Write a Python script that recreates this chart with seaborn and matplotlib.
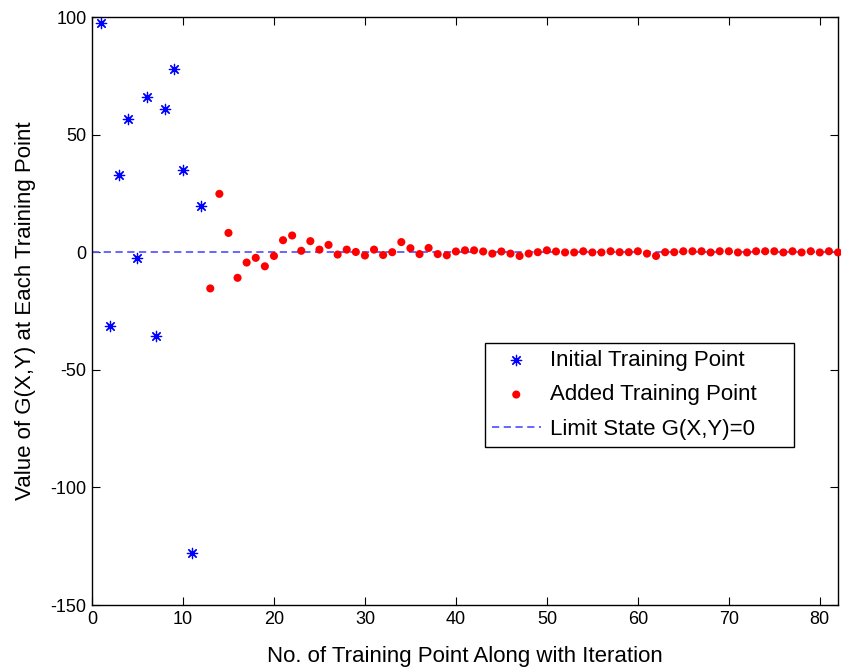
import matplotlib
matplotlib.use("Agg")
import matplotlib.pyplot as plt
import seaborn as sns
import numpy as np
import pandas as pd

# ---- data ----
initial_x = list(range(1, 13))
initial_y = [97.5, -31.5, 33, 56.5, -2.5, 66, -35.7, 61, 78, 35, -128, 19.5]

added_x = list(range(13, 83))
added_y = [-15.4, 24.8, 8.2, -10.9, -4.4, -2.4, -6.0, -1.6, 5.1, 7.1,
           0.6, 4.7, 1.1, 3.1, -1.0, 1.1, 0.1, -1.4, 1.1, -1.2,
           0.0, 4.3, 1.7, -0.8, 1.8, -0.8, -1.3, 0.3, 0.8, 0.8,
           0.3, -0.6, 0.3, -0.6, -1.6, -0.6, 0.0, 0.8, 0.3, -0.1,
           -0.1, 0.4, -0.1, -0.1, 0.4, 0.0, 0.0, 0.4, -0.6, -1.6,
           0.0, 0.0, 0.4, 0.4, 0.4, -0.1, 0.4, 0.4, -0.1, -0.1,
           0.4, 0.4, 0.4, -0.1, 0.4, -0.1, 0.4, -0.1, 0.4, -0.1]

limit_value = 0.0
xticks = [0, 10, 20, 30, 40, 50, 60, 70, 80]
yticks = [-150, -100, -50, 0, 50, 100]

labels = ["Initial Training Point", "Added Training Point", "Limit State G(X,Y)=0"]

sns.set_style("ticks")
plt.rcParams["font.family"] = ["Liberation Sans", "DejaVu Sans"]
plt.rcParams["axes.unicode_minus"] = False
plt.rcParams["text.color"] = "black"
plt.rcParams["axes.labelcolor"] = "black"

fig = plt.figure(figsize=(8.41, 6.69), dpi=100)
ax = fig.add_axes([92 / 841, 1 - 605 / 669, (838 - 92) / 841, (605 - 17) / 669])

df_init = pd.DataFrame({"x": initial_x, "y": initial_y})
df_add = pd.DataFrame({"x": added_x, "y": added_y})

ax.axhline(limit_value, color="#5b5bff", linestyle=(0, (4, 2.5)), linewidth=1.3,
           label=labels[2], zorder=1)
sns.scatterplot(data=df_init, x="x", y="y", ax=ax, marker=(8, 2, 0), s=55,
                color="#0000ff", edgecolor="#0000ff", linewidth=0.9,
                label=labels[0], zorder=3)
sns.scatterplot(data=df_add, x="x", y="y", ax=ax, marker="o", s=34,
                color="#ff0000", edgecolor="none", linewidth=0,
                label=labels[1], zorder=3, clip_on=False)

ax.set_xlim(0, 82)
ax.set_ylim(-150, 100)
ax.set_xticks(xticks)
ax.set_yticks(yticks)
ax.tick_params(direction="in", length=6, width=0.8, labelsize=13, colors="black",
               top=True, right=True, pad=4)
for s in ax.spines.values():
    s.set_visible(True)
    s.set_linewidth(1.0)
    s.set_color("black")

ax.set_xlabel("No. of Training Point Along with Iteration", fontsize=16, labelpad=13)
ax.set_ylabel("Value of G(X,Y) at Each Training Point", fontsize=16, labelpad=10)

handles, labs = ax.get_legend_handles_labels()
order = [labs.index(l) for l in labels]
leg_w = (794 - 485) / 746
leg_h = (447 - 343) / 588
leg = ax.legend([handles[i] for i in order], [labs[i] for i in order],
                loc="lower left", bbox_to_anchor=(0.527, 0.269, leg_w, leg_h),
                mode="expand", fontsize=16,
                frameon=True, fancybox=False, edgecolor="black", framealpha=1,
                handlelength=2.2, handletextpad=0.4, borderpad=0.3,
                labelspacing=0.62, borderaxespad=0)
leg.get_frame().set_linewidth(1.0)
for t in leg.get_texts():
    t.set_color("black")

fig.savefig("out.png", dpi=100)
